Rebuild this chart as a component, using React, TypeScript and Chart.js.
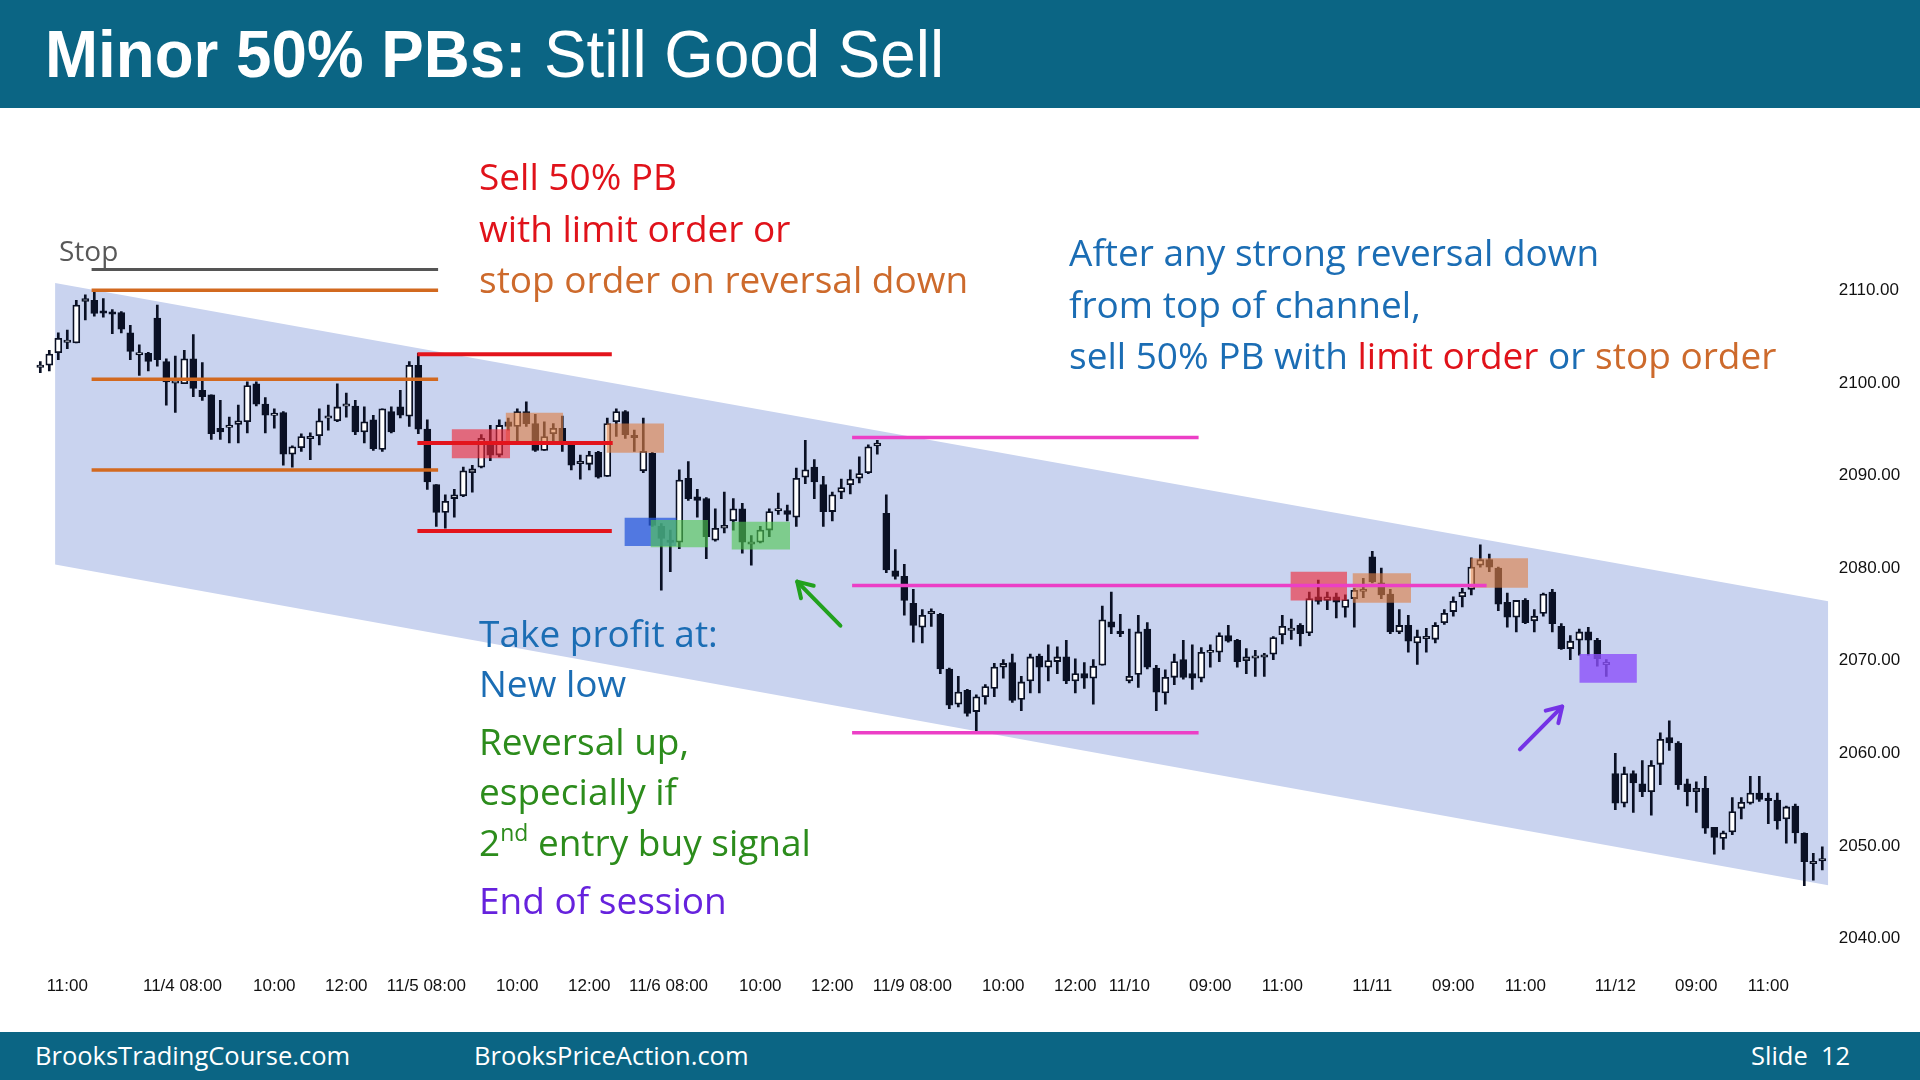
import React, { useEffect, useRef } from 'react';
import { Chart, registerables } from 'chart.js';

Chart.register(...registerables);

// ---------- DATA ----------
const OPEN = [
  2101.7, 2101.9, 2103.25, 2104.4, 2104.3, 2108.8, 2108.9, 2107.7, 2107.6, 2107.6,
  2105.4, 2103.1, 2103.2, 2107.0, 2102.3, 2100.0, 2099.9, 2102.6, 2099.2, 2098.7,
  2095.1, 2095.2, 2095.5, 2095.8, 2099.9, 2097.7, 2096.5, 2096.8, 2092.3, 2093.0,
  2094.0, 2094.3, 2096.2, 2095.9, 2097.5, 2097.5, 2094.7, 2096.0, 2092.8, 2096.9,
  2097.4, 2096.4, 2101.9, 2095.0, 2089.0, 2086.0, 2087.5, 2087.8, 2090.3, 2090.9,
  2093.6, 2092.2, 2095.8, 2095.3, 2096.9, 2095.6, 2092.7, 2094.5, 2095.1, 2093.3,
  2091.3, 2091.2, 2092.5, 2089.9, 2095.8, 2096.9, 2094.3, 2090.5, 2092.4, 2084.5,
  2083.0, 2082.8, 2089.7, 2087.7, 2087.5, 2083.0, 2084.3, 2085.1, 2086.4, 2082.6,
  2082.8, 2084.1, 2086.2, 2086.2, 2085.5, 2089.8, 2090.9, 2089.0, 2086.1, 2088.2,
  2089.0, 2089.7, 2090.3, 2093.2, 2085.9, 2079.7, 2079.1, 2076.2, 2073.6, 2075.1,
  2075.0, 2069.1, 2065.3, 2066.8, 2064.5, 2066.1, 2067.0, 2069.3, 2069.8, 2065.8,
  2067.8, 2070.5, 2069.3, 2069.9, 2070.4, 2067.8, 2068.6, 2068.1, 2069.5, 2074.2,
  2073.2, 2067.8, 2068.5, 2073.4, 2069.2, 2066.5, 2068.2, 2070.1, 2068.6, 2068.1,
  2070.9, 2070.9, 2072.7, 2072.2, 2070.0, 2070.3, 2070.4, 2070.7, 2072.8, 2073.3,
  2073.8, 2073.0, 2076.9, 2076.5, 2076.9, 2075.75, 2076.7, 2077.5, 2081.2, 2078.4,
  2077.2, 2073.1, 2073.8, 2071.9, 2072.4, 2072.3, 2074.1, 2075.3, 2076.9, 2077.7,
  2080.3, 2080.9, 2080.0, 2076.3, 2074.7, 2076.5, 2074.3, 2075.1, 2077.4, 2073.7,
  2071.3, 2072.2, 2073.1, 2072.2, 2069.6, 2057.8, 2054.6, 2057.8, 2056.7, 2055.85,
  2058.8, 2061.7, 2061.1, 2056.7, 2055.85, 2056.2, 2052.0, 2050.8, 2051.5, 2054.05,
  2054.6, 2055.7, 2055.1, 2054.95, 2052.9, 2054.3, 2051.35, 2048.1, 2048.4,
];

const HIGH = [
  2102.3, 2103.5, 2105.4, 2105.7, 2108.9, 2109.5, 2109.8, 2109.1, 2107.9, 2107.7,
  2106.2, 2104.1, 2103.3, 2108.4, 2102.6, 2102.9, 2103.5, 2105.2, 2102.2, 2098.7,
  2098.1, 2096.3, 2097.6, 2100.1, 2100.1, 2098.4, 2097.2, 2096.9, 2093.2, 2094.5,
  2094.6, 2097.2, 2097.6, 2099.9, 2098.9, 2098.1, 2097.4, 2096.5, 2097.2, 2097.4,
  2099.2, 2102.3, 2103.2, 2096.0, 2089.0, 2087.9, 2088.5, 2090.9, 2091.1, 2094.4,
  2095.4, 2096.0, 2096.2, 2097.2, 2097.96, 2096.6, 2095.8, 2095.6, 2096.4, 2093.5,
  2092.2, 2092.6, 2092.6, 2096.2, 2097.2, 2097.0, 2094.9, 2096.2, 2092.5, 2084.8,
  2084.1, 2090.6, 2091.5, 2088.5, 2087.6, 2086.4, 2088.2, 2087.5, 2087.0, 2083.5,
  2084.5, 2086.4, 2088.1, 2086.8, 2090.8, 2093.8, 2091.7, 2089.9, 2088.2, 2089.6,
  2090.6, 2092.0, 2093.3, 2093.8, 2087.9, 2082.0, 2080.4, 2077.7, 2075.5, 2075.6,
  2075.1, 2069.2, 2068.3, 2066.9, 2066.3, 2067.4, 2069.7, 2070.1, 2070.7, 2068.3,
  2070.7, 2070.7, 2071.7, 2071.5, 2072.2, 2070.2, 2069.8, 2070.1, 2075.9, 2077.4,
  2075.0, 2073.4, 2074.9, 2074.1, 2069.5, 2069.0, 2070.7, 2072.2, 2071.7, 2071.4,
  2071.7, 2073.0, 2073.8, 2072.3, 2071.3, 2071.1, 2070.8, 2072.6, 2074.9, 2074.5,
  2074.0, 2077.4, 2078.7, 2077.4, 2077.3, 2077.1, 2077.8, 2078.9, 2081.8, 2080.0,
  2077.7, 2075.5, 2074.9, 2073.3, 2073.5, 2074.1, 2075.5, 2076.9, 2077.8, 2081.1,
  2082.5, 2081.5, 2080.1, 2077.3, 2076.5, 2076.7, 2075.5, 2077.3, 2077.7, 2074.0,
  2072.7, 2073.4, 2073.6, 2072.4, 2070.1, 2060.0, 2058.5, 2058.1, 2059.2, 2059.2,
  2062.2, 2063.5, 2061.25, 2057.2, 2056.9, 2057.5, 2052.0, 2051.6, 2055.2, 2055.2,
  2057.5, 2057.5, 2055.7, 2055.7, 2054.3, 2054.5, 2051.4, 2049.2, 2049.9,
];

const LOW = [
  2101.1, 2101.3, 2102.5, 2103.7, 2104.3, 2106.8, 2107.2, 2107.1, 2105.3, 2105.4,
  2102.5, 2100.8, 2101.3, 2101.8, 2097.6, 2096.8, 2099.9, 2098.5, 2098.1, 2093.9,
  2093.9, 2093.5, 2093.5, 2094.6, 2097.5, 2094.6, 2095.1, 2091.1, 2090.9, 2092.6,
  2091.7, 2093.3, 2094.9, 2095.8, 2096.3, 2094.4, 2093.5, 2092.7, 2092.6, 2094.6,
  2096.2, 2095.3, 2094.5, 2088.5, 2084.5, 2084.3, 2085.5, 2087.7, 2088.2, 2090.8,
  2091.6, 2092.0, 2094.9, 2093.5, 2095.3, 2092.6, 2092.7, 2093.5, 2092.6, 2090.6,
  2089.6, 2090.6, 2089.7, 2089.9, 2094.2, 2094.0, 2092.6, 2090.3, 2084.5, 2077.6,
  2079.6, 2082.1, 2087.3, 2085.5, 2081.0, 2082.9, 2083.8, 2084.1, 2081.6, 2080.3,
  2082.7, 2083.4, 2085.8, 2085.1, 2084.5, 2089.1, 2087.5, 2084.5, 2085.1, 2087.5,
  2088.0, 2089.2, 2090.2, 2092.3, 2079.5, 2078.8, 2074.9, 2072.0, 2071.9, 2073.7,
  2068.6, 2064.8, 2065.0, 2064.0, 2062.3, 2065.3, 2066.1, 2068.1, 2065.5, 2064.6,
  2066.5, 2066.5, 2067.8, 2068.6, 2067.5, 2066.5, 2067.0, 2065.3, 2069.5, 2072.9,
  2072.6, 2067.6, 2067.1, 2069.1, 2064.6, 2065.3, 2067.4, 2068.0, 2066.9, 2067.7,
  2069.3, 2069.9, 2072.0, 2069.3, 2068.6, 2068.3, 2068.3, 2070.1, 2071.8, 2072.3,
  2071.6, 2072.7, 2076.1, 2075.5, 2074.6, 2074.7, 2073.6, 2076.8, 2078.4, 2076.7,
  2072.9, 2072.9, 2070.9, 2069.6, 2070.9, 2071.9, 2073.9, 2074.8, 2075.8, 2077.1,
  2080.1, 2079.6, 2075.4, 2073.6, 2073.1, 2074.0, 2073.1, 2074.8, 2073.1, 2071.2,
  2070.1, 2070.6, 2070.6, 2069.4, 2068.3, 2053.9, 2054.2, 2053.6, 2055.3, 2053.3,
  2056.6, 2060.3, 2056.1, 2054.3, 2053.6, 2051.35, 2049.1, 2049.6, 2051.2, 2052.9,
  2054.5, 2054.8, 2052.4, 2051.8, 2050.3, 2050.3, 2045.7, 2046.3, 2047.4,
];

const CLOSE = [
  2101.9, 2103.1, 2104.8, 2104.6, 2108.4, 2109.1, 2107.5, 2107.6, 2107.5, 2105.8,
  2103.4, 2103.2, 2102.3, 2102.5, 2100.1, 2100.2, 2102.6, 2099.4, 2098.5, 2094.5,
  2094.7, 2095.4, 2095.9, 2099.7, 2097.7, 2096.5, 2096.7, 2092.3, 2093.1, 2094.2,
  2094.2, 2095.9, 2096.4, 2097.4, 2097.7, 2094.7, 2095.8, 2092.9, 2097.2, 2094.7,
  2096.5, 2101.9, 2095.0, 2089.3, 2086.0, 2087.2, 2087.9, 2090.5, 2090.7, 2094.0,
  2092.2, 2095.4, 2095.3, 2096.9, 2095.6, 2092.7, 2094.2, 2095.1, 2093.5, 2091.1,
  2091.5, 2092.2, 2089.8, 2095.6, 2096.9, 2094.4, 2094.1, 2092.6, 2084.6, 2083.2,
  2082.8, 2089.5, 2087.5, 2087.3, 2083.4, 2084.3, 2084.6, 2086.4, 2082.8, 2082.8,
  2084.1, 2086.1, 2086.4, 2085.8, 2089.7, 2090.6, 2089.3, 2086.1, 2087.9, 2088.7,
  2089.6, 2090.2, 2093.1, 2093.5, 2079.8, 2079.1, 2076.5, 2073.8, 2074.9, 2075.3,
  2069.1, 2065.2, 2066.6, 2064.3, 2066.1, 2067.2, 2069.3, 2069.7, 2065.7, 2067.7,
  2070.4, 2069.3, 2070.0, 2070.4, 2067.8, 2068.6, 2068.1, 2069.4, 2074.4, 2073.6,
  2072.9, 2068.3, 2073.1, 2069.3, 2066.6, 2068.2, 2069.9, 2068.2, 2068.1, 2070.9,
  2071.1, 2072.7, 2072.1, 2069.9, 2070.4, 2070.5, 2070.6, 2072.5, 2073.7, 2073.5,
  2072.9, 2076.7, 2076.4, 2076.9, 2076.3, 2076.6, 2077.6, 2077.7, 2078.5, 2077.1,
  2073.1, 2073.8, 2072.1, 2072.6, 2072.6, 2073.8, 2075.1, 2076.4, 2077.4, 2080.1,
  2080.9, 2080.1, 2076.1, 2074.7, 2076.5, 2074.1, 2074.8, 2077.2, 2074.0, 2071.3,
  2072.1, 2073.1, 2072.2, 2070.2, 2069.8, 2054.6, 2057.8, 2056.8, 2055.85, 2058.7,
  2061.5, 2061.1, 2056.6, 2055.85, 2056.2, 2051.9, 2050.9, 2051.4, 2053.7, 2054.7,
  2055.7, 2055.0, 2054.9, 2052.7, 2054.2, 2051.4, 2048.3, 2048.3, 2048.6,
];

const X_TICK_POS = [3, 15.8, 26, 34, 42.9, 53, 61, 69.8, 80, 88, 96.9, 107, 115, 121, 130, 138, 148, 157, 165, 175, 184, 192];
const X_TICK_LABELS = [
  '11:00', '11/4 08:00', '10:00', '12:00', '11/5 08:00', '10:00', '12:00', '11/6 08:00',
  '10:00', '12:00', '11/9 08:00', '10:00', '12:00', '11/10', '09:00', '11:00',
  '11/11', '09:00', '11:00', '11/12', '09:00', '11:00',
];
const Y_TICKS = [2040, 2050, 2060, 2070, 2080, 2090, 2100, 2110];

// channel edges: [x, y] pairs
const CHANNEL_TOP = [[1.64, 2110.79], [198.66, 2076.41]];
const CHANNEL_BOTTOM = [[1.64, 2080.38], [198.66, 2045.73]];

// horizontal lines: [xStart, xEnd, y]
const STOP_LINES = [[5.7, 44.2, 2112.25]];
const ORANGE_LINES = [[5.7, 44.2, 2110.0], [5.7, 44.2, 2100.4], [5.7, 44.2, 2090.6]];
const RED_LINES = [[41.9, 63.5, 2103.1], [41.9, 63.6, 2093.5], [41.9, 63.5, 2084.0]];
const MAGENTA_LINES = [[90.2, 128.7, 2094.1], [90.2, 160.7, 2078.1], [90.2, 128.7, 2062.2]];

// boxes: [xStart, xEnd, yLow, yHigh]
const RED_BOXES = [[45.7, 52.2, 2091.85, 2094.98], [138.9, 145.2, 2076.5, 2079.6]];
const TAN_BOXES = [[51.7, 58.1, 2093.28, 2096.77], [62.9, 69.3, 2092.45, 2095.6], [145.8, 152.3, 2076.25, 2079.43], [158.9, 165.3, 2077.87, 2081.05]];
const GREEN_BOXES = [[67.8, 74.2, 2082.24, 2085.18], [76.8, 83.3, 2082.0, 2085.0]];
const BLUE_BOXES = [[64.9, 70.7, 2082.38, 2085.43]];
const PURPLE_BOXES = [[171.0, 177.4, 2067.6, 2070.71]];

// arrows: [xTail, yTail, xHead, yHead]
const GREEN_ARROW = [88.9, 2073.77, 84.1, 2078.53];
const PURPLE_ARROW = [164.4, 2060.41, 169.1, 2065.04];

// ---------- STYLE ----------
const CANDLE = '#0a1024';
const TEAL = '#0b6584';
const FONT_TEXT = "'Open Sans', Lato, sans-serif";
const FONT_AXIS = "'Liberation Sans', Arial, sans-serif";

function hLineDatasets(lines: number[][], color: string, width: number) {
  return lines.map((l) => ({
    type: 'line' as const,
    data: [{ x: l[0], y: l[2] }, { x: l[1], y: l[2] }],
    borderColor: color,
    borderWidth: width,
    pointRadius: 0,
    fill: false,
    order: 0,
  }));
}

function boxDatasets(boxes: number[][], color: string, order: number) {
  return boxes.map((b) => ({
    type: 'line' as const,
    data: [{ x: b[0], y: b[3] }, { x: b[1], y: b[3] }],
    borderWidth: 0,
    borderColor: 'rgba(0,0,0,0)',
    backgroundColor: color,
    pointRadius: 0,
    fill: { value: b[2] },
    order,
  }));
}

const arrowPlugin = {
  id: 'arrows',
  afterDatasetsDraw(chart: any) {
    const { ctx, scales } = chart;
    const xs = scales.x;
    const ys = scales.y;
    const items: [number[], string][] = [
      [GREEN_ARROW, '#22a11e'],
      [PURPLE_ARROW, '#7433e6'],
    ];
    ctx.save();
    for (const [a, color] of items) {
      const x1 = xs.getPixelForValue(a[0]);
      const y1 = ys.getPixelForValue(a[1]);
      const x2 = xs.getPixelForValue(a[2]);
      const y2 = ys.getPixelForValue(a[3]);
      const ang = Math.atan2(y2 - y1, x2 - x1);
      const head = 17;
      ctx.strokeStyle = color;
      ctx.lineWidth = 4;
      ctx.lineCap = 'round';
      ctx.lineJoin = 'round';
      ctx.beginPath();
      ctx.moveTo(x1, y1);
      ctx.lineTo(x2, y2);
      ctx.stroke();
      ctx.beginPath();
      ctx.moveTo(x2 - head * Math.cos(ang - 0.55), y2 - head * Math.sin(ang - 0.55));
      ctx.lineTo(x2, y2);
      ctx.lineTo(x2 - head * Math.cos(ang + 0.55), y2 - head * Math.sin(ang + 0.55));
      ctx.stroke();
    }
    ctx.restore();
  },
};

type Seg = { t: string; c: string; sup?: boolean };
type Line = { left: number; cy: number; size: number; segs: Seg[] };

const RED = '#e0121a';
const ORANGE = '#cd6a2c';
const BLUE = '#1b6db4';
const GREEN = '#2c8c1c';
const PURPLE = '#6622dd';

const TEXT_LINES: Line[] = [
  { left: 59, cy: 250, size: 28, segs: [{ t: 'Stop', c: '#595959' }] },
  { left: 479, cy: 176, size: 37, segs: [{ t: 'Sell 50% PB', c: RED }] },
  { left: 479, cy: 228, size: 37, segs: [{ t: 'with limit order or', c: RED }] },
  { left: 479, cy: 279, size: 37, segs: [{ t: 'stop order on reversal down', c: ORANGE }] },
  { left: 1069, cy: 252, size: 37, segs: [{ t: 'After any strong reversal down', c: BLUE }] },
  { left: 1069, cy: 304, size: 37, segs: [{ t: 'from top of channel,', c: BLUE }] },
  {
    left: 1069, cy: 355, size: 37, segs: [
      { t: 'sell 50% PB with ', c: BLUE },
      { t: 'limit order', c: RED },
      { t: ' or ', c: BLUE },
      { t: 'stop order', c: ORANGE },
    ],
  },
  { left: 479, cy: 633, size: 37, segs: [{ t: 'Take profit at:', c: BLUE }] },
  { left: 479, cy: 683, size: 37, segs: [{ t: 'New low', c: BLUE }] },
  { left: 479, cy: 741, size: 37, segs: [{ t: 'Reversal up,', c: GREEN }] },
  { left: 479, cy: 791, size: 37, segs: [{ t: 'especially if', c: GREEN }] },
  {
    left: 479, cy: 842, size: 37, segs: [
      { t: '2', c: GREEN },
      { t: 'nd', c: GREEN, sup: true },
      { t: ' entry buy signal', c: GREEN },
    ],
  },
  { left: 479, cy: 900, size: 37, segs: [{ t: 'End of session', c: PURPLE }] },
];

export default function App() {
  const canvasRef = useRef<HTMLCanvasElement | null>(null);

  useEffect(() => {
    const canvas = canvasRef.current;
    if (!canvas) return;

    const bodies = OPEN.map((o, i) => {
      const c = CLOSE[i];
      let lo = Math.min(o, c);
      let hi = Math.max(o, c);
      if (hi - lo < 0.25) {
        const m = (hi + lo) / 2;
        lo = m - 0.125;
        hi = m + 0.125;
      }
      return { x: i, y: [lo, hi] };
    });
    const wicks = HIGH.map((h, i) => ({ x: i, y: [LOW[i], h] }));

    const datasets: any[] = [
      ...hLineDatasets(STOP_LINES, '#555555', 3),
      ...hLineDatasets(ORANGE_LINES, '#d2691f', 3.5),
      ...hLineDatasets(RED_LINES, '#e3141c', 4),
      ...hLineDatasets(MAGENTA_LINES, '#ec3fc6', 3.5),
      ...boxDatasets(GREEN_BOXES, 'rgba(80,200,80,0.62)', 1),
      ...boxDatasets(RED_BOXES, 'rgba(240,40,55,0.62)', 1),
      ...boxDatasets(TAN_BOXES, 'rgba(222,128,70,0.62)', 1),
      ...boxDatasets(PURPLE_BOXES, 'rgba(140,80,250,0.8)', 1),
      ...boxDatasets(BLUE_BOXES, 'rgba(40,90,220,0.75)', 2),
      {
        type: 'bar',
        data: bodies,
        grouped: false,
        barThickness: 7,
        backgroundColor: (ctx: any) => {
          const i = ctx.dataIndex;
          return CLOSE[i] >= OPEN[i] ? '#ffffff' : CANDLE;
        },
        borderColor: CANDLE,
        borderWidth: 1.8,
        borderSkipped: false,
        order: 3,
      },
      {
        type: 'bar',
        data: wicks,
        grouped: false,
        barThickness: 2,
        backgroundColor: CANDLE,
        borderWidth: 0,
        order: 4,
      },
      {
        type: 'line',
        data: CHANNEL_TOP.map((p) => ({ x: p[0], y: p[1] })),
        borderWidth: 0,
        borderColor: 'rgba(0,0,0,0)',
        backgroundColor: '#c9d3ef',
        pointRadius: 0,
        fill: '+1',
        order: 5,
      },
      {
        type: 'line',
        data: CHANNEL_BOTTOM.map((p) => ({ x: p[0], y: p[1] })),
        borderWidth: 0,
        borderColor: 'rgba(0,0,0,0)',
        pointRadius: 0,
        fill: false,
        order: 5,
      },
    ];

    const chart = new Chart(canvas, {
      type: 'bar',
      data: { datasets },
      plugins: [arrowPlugin],
      options: {
        responsive: false,
        animation: false,
        devicePixelRatio: 1,
        events: [],
        layout: { padding: { left: 26.8, top: 253.2, right: 4.2, bottom: 73.8 } },
        plugins: {
          legend: { display: false },
          tooltip: { enabled: false },
          title: { display: false },
        },
        scales: {
          x: {
            type: 'linear',
            min: -1.5,
            max: 199.5,
            offset: false,
            grid: { display: false, drawTicks: false },
            border: { display: false },
            afterFit: (scale: any) => { scale.height = 40; },
            afterBuildTicks: (scale: any) => {
              scale.ticks = X_TICK_POS.map((v) => ({ value: v }));
            },
            ticks: {
              autoSkip: false,
              maxRotation: 0,
              minRotation: 0,
              padding: 9.5,
              color: '#111111',
              font: { family: FONT_AXIS, size: 17 },
              callback: (_v: any, idx: number) => X_TICK_LABELS[idx],
            },
          },
          y: {
            type: 'linear',
            position: 'right',
            min: 2037,
            max: 2114,
            grid: { display: false, drawTicks: false },
            border: { display: false },
            afterFit: (scale: any) => { scale.width = 80; },
            afterBuildTicks: (scale: any) => {
              scale.ticks = Y_TICKS.map((v) => ({ value: v }));
            },
            ticks: {
              padding: 3,
              color: '#111111',
              font: { family: FONT_AXIS, size: 17 },
              callback: (v: any) => Number(v).toFixed(2),
            },
          },
        },
      },
    } as any);

    return () => chart.destroy();
  }, []);

  return (
    <div style={{ position: 'fixed', left: 0, top: 0, width: 1920, height: 1080, background: '#ffffff', overflow: 'hidden' }}>
      <canvas ref={canvasRef} width={1920} height={1080} style={{ position: 'absolute', left: 0, top: 0, width: 1920, height: 1080 }} />
      <div style={{ position: 'absolute', left: 0, top: 0, width: 1920, height: 108, background: TEAL }}>
        <div style={{
          position: 'absolute', left: 45, top: 0, height: 108, lineHeight: '108px', whiteSpace: 'nowrap',
          fontFamily: FONT_AXIS, fontSize: 66, color: '#ffffff', transform: 'scaleX(0.965)', transformOrigin: 'left center',
        }}>
          <span style={{ fontWeight: 700 }}>Minor 50% PBs:</span>
          <span style={{ fontWeight: 400 }}> Still Good Sell</span>
        </div>
      </div>
      <div style={{ position: 'absolute', left: 0, top: 1032, width: 1920, height: 48, background: TEAL, fontFamily: FONT_TEXT, fontSize: 25.5, color: '#ffffff' }}>
        <div style={{ position: 'absolute', left: 35, top: 0, lineHeight: '46px', whiteSpace: 'nowrap' }}>BrooksTradingCourse.com</div>
        <div style={{ position: 'absolute', left: 474, top: 0, lineHeight: '46px', whiteSpace: 'nowrap' }}>BrooksPriceAction.com</div>
        <div style={{ position: 'absolute', left: 1751, top: 0, lineHeight: '46px', whiteSpace: 'pre' }}>Slide  12</div>
      </div>
      {TEXT_LINES.map((ln, k) => (
        <div key={k} style={{
          position: 'absolute', left: ln.left, top: ln.cy - 25, height: 50, lineHeight: '50px', whiteSpace: 'pre',
          fontFamily: FONT_TEXT, fontSize: ln.size, pointerEvents: 'none',
        }}>
          {ln.segs.map((s, j) => (
            <span key={j} style={s.sup
              ? { color: s.c, fontSize: '0.62em', verticalAlign: 'top', lineHeight: '30px' }
              : { color: s.c }}>{s.t}</span>
          ))}
        </div>
      ))}
    </div>
  );
}
